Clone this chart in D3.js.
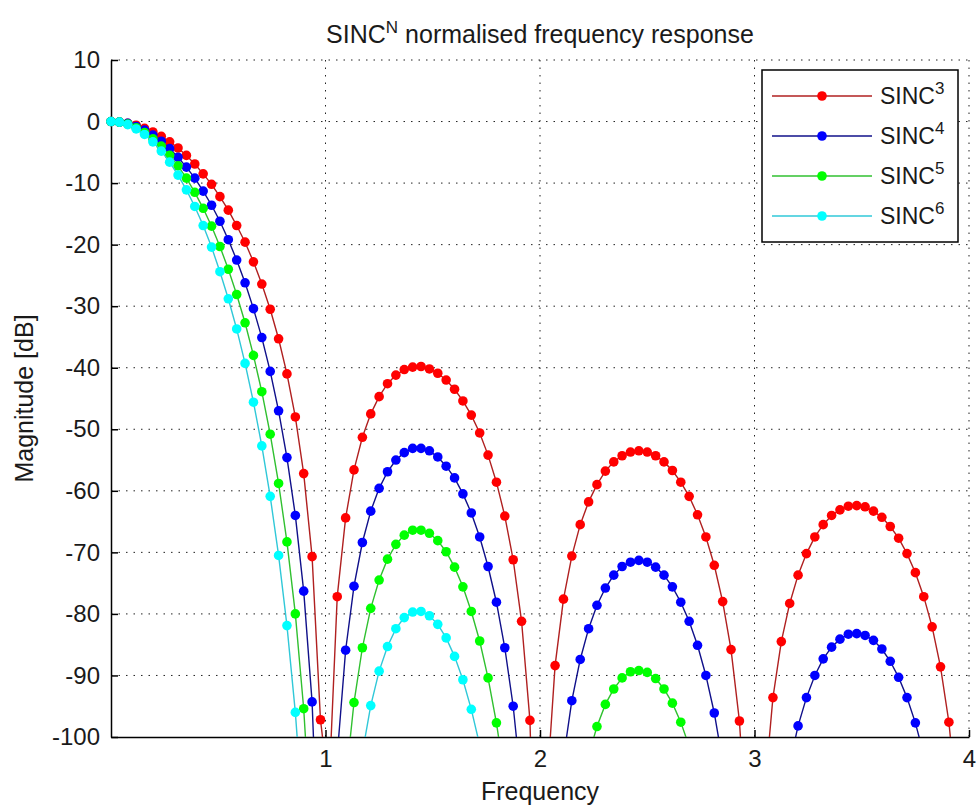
<!DOCTYPE html>
<html>
<head>
<meta charset="utf-8">
<script src="https://cdn.jsdelivr.net/npm/d3@7"></script>
<title>SINC^N response</title>
<style>
body{ margin:0; background-color:white; }
text{ font-family: Arial, "Liberation Sans", sans-serif; fill:#1a1a1a; }
.grid line{ stroke:#222; stroke-width:1; stroke-dasharray:1.5,6; }
.axis path, .axis line{ stroke:#000; stroke-width:1.5; }
</style>
</head>
<body>
<svg id="chart" width="977" height="807"></svg>
<script type="text/javascript">
// frequency samples (normalised)
var freq = [
 0, 0.0391, 0.0781, 0.1172, 0.1563, 0.1953, 0.2344, 0.2734, 0.3125, 0.3516,
 0.3906, 0.4297, 0.4688, 0.5078, 0.5469, 0.5859, 0.625, 0.6641, 0.7031, 0.7422,
 0.7813, 0.8203, 0.8594, 0.8984, 0.9375, 0.9766, 1.0156, 1.0547, 1.0938, 1.1328,
 1.1719, 1.2109, 1.25, 1.2891, 1.3281, 1.3672, 1.4063, 1.4453, 1.4844, 1.5234,
 1.5625, 1.6016, 1.6406, 1.6797, 1.7188, 1.7578, 1.7969, 1.8359, 1.875, 1.9141,
 1.9531, 1.9922, 2.0313, 2.0703, 2.1094, 2.1484, 2.1875, 2.2266, 2.2656, 2.3047,
 2.3438, 2.3828, 2.4219, 2.4609, 2.5, 2.5391, 2.5781, 2.6172, 2.6563, 2.6953,
 2.7344, 2.7734, 2.8125, 2.8516, 2.8906, 2.9297, 2.9688, 3.0078, 3.0469, 3.0859,
 3.125, 3.1641, 3.2031, 3.2422, 3.2813, 3.3203, 3.3594, 3.3984, 3.4375, 3.4766,
 3.5156, 3.5547, 3.5938, 3.6328, 3.6719, 3.7109, 3.75, 3.7891, 3.8281, 3.8672,
 3.9063, 3.9453, 3.9844
];

// magnitudes in dB (points below -100 are off the axes)
var sinc3 = [
 0, -0.1, -0.3, -0.6, -1.1, -1.7, -2.4, -3.3, -4.3, -5.5,
 -6.9, -8.5, -10.2, -12.2, -14.4, -16.9, -19.6, -22.8, -26.4, -30.5,
 -35.3, -41.0, -48.0, -57.2, -70.7, -97.2, -108.8, -77.2, -64.4, -56.6,
 -51.3, -47.5, -44.7, -42.6, -41.2, -40.3, -39.9, -39.8, -40.2, -40.9,
 -42.0, -43.5, -45.4, -47.7, -50.6, -54.2, -58.6, -64.1, -71.2, -81.2,
 -97.3, -144.4, -108.8, -88.4, -77.6, -70.6, -65.5, -61.8, -59.0, -56.8,
 -55.3, -54.3, -53.7, -53.5, -53.7, -54.3, -55.3, -56.7, -58.6, -60.9,
 -63.9, -67.5, -72.1, -78.0, -85.8, -97.4, -118.7, -155.1, -108.9, -93.6,
 -84.5, -78.3, -73.7, -70.2, -67.5, -65.5, -64.0, -63.1, -62.5, -62.4,
 -62.6, -63.3, -64.3, -65.8, -67.7, -70.2, -73.3, -77.2, -82.1, -88.6,
 -97.6, -111.6, -144.4
];
var sinc4 = [
 0, -0.1, -0.3, -0.8, -1.4, -2.2, -3.2, -4.4, -5.8, -7.4,
 -9.2, -11.3, -13.6, -16.2, -19.2, -22.5, -26.2, -30.4, -35.1, -40.6,
 -47.0, -54.6, -64.0, -76.3, -94.3, -129.6, -145.0, -103.0, -85.9, -75.5,
 -68.4, -63.3, -59.6, -56.9, -55.0, -53.8, -53.1, -53.1, -53.5, -54.5,
 -56.0, -57.9, -60.5, -63.6, -67.5, -72.3, -78.1, -85.5, -95.0, -108.2,
 -129.7, -192.5, -145.1, -117.8, -103.5, -94.1, -87.4, -82.4, -78.6, -75.8,
 -73.7, -72.3, -71.6, -71.3, -71.6, -72.4, -73.7, -75.6, -78.1, -81.2,
 -85.1, -90.0, -96.1, -104.0, -114.5, -129.9, -158.3, -206.8, -145.2, -124.8,
 -112.7, -104.4, -98.2, -93.6, -90.0, -87.3, -85.4, -84.1, -83.3, -83.2,
 -83.5, -84.3, -85.7, -87.7, -90.3, -93.6, -97.7, -102.9, -109.5, -118.1,
 -130.1, -148.8, -192.5
];
var sinc5 = [
 0, -0.1, -0.4, -1.0, -1.8, -2.8, -4.0, -5.5, -7.2, -9.2,
 -11.5, -14.1, -17.0, -20.3, -24.0, -28.1, -32.7, -38.0, -43.9, -50.8,
 -58.8, -68.3, -80.0, -95.4, -117.9, -162.0, -181.3, -128.7, -107.3, -94.4,
 -85.5, -79.1, -74.5, -71.1, -68.7, -67.2, -66.4, -66.4, -66.9, -68.1,
 -69.9, -72.4, -75.6, -79.6, -84.4, -90.4, -97.7, -106.8, -118.7, -135.3,
 -162.1, -240.7, -181.4, -147.3, -129.4, -117.6, -109.2, -103.0, -98.3, -94.7,
 -92.2, -90.4, -89.4, -89.2, -89.5, -90.5, -92.2, -94.5, -97.6, -101.5,
 -106.4, -112.5, -120.1, -129.9, -143.1, -162.3, -197.8, -258.6, -181.5, -156.0,
 -140.9, -130.5, -122.8, -116.9, -112.5, -109.2, -106.7, -105.1, -104.2, -103.9,
 -104.4, -105.4, -107.2, -109.6, -112.9, -117.0, -122.2, -128.7, -136.9, -147.7,
 -162.6, -186.0, -240.7
];
var sinc6 = [
 0, -0.1, -0.5, -1.2, -2.1, -3.3, -4.8, -6.6, -8.7, -11.1,
 -13.8, -16.9, -20.4, -24.4, -28.8, -33.7, -39.3, -45.6, -52.7, -60.9,
 -70.5, -81.9, -96.0, -114.5, -141.5, -194.4, -217.6, -154.5, -128.8, -113.2,
 -102.6, -94.9, -89.3, -85.3, -82.4, -80.6, -79.7, -79.6, -80.3, -81.7,
 -83.9, -86.9, -90.7, -95.5, -101.3, -108.4, -117.2, -128.2, -142.5, -162.4,
 -194.6, -288.8, -217.6, -176.7, -155.3, -141.2, -131.1, -123.6, -117.9, -113.7,
 -110.6, -108.5, -107.3, -107.0, -107.4, -108.6, -110.6, -113.4, -117.1, -121.8,
 -127.7, -135.0, -144.2, -155.9, -171.7, -194.8, -237.4, -310.3, -217.7, -187.3,
 -169.1, -156.6, -147.3, -140.3, -135.0, -131.0, -128.1, -126.1, -125.0, -124.7,
 -125.2, -126.5, -128.6, -131.6, -135.4, -140.4, -146.6, -154.4, -164.3, -177.2,
 -195.1, -223.3, -288.8
];

var xTicks = [1, 2, 3, 4];
var yTicks = [10, 0, -10, -20, -30, -40, -50, -60, -70, -80, -90, -100];
var powers = ["3", "4", "5", "6"];
var markerColors = ["#ff0000", "#0000ff", "#00ff00", "#00ffff"];
var lineColors = ["#b02020", "#10108a", "#30c030", "#30c8d8"];

var props = {
  width: 977,
  height: 807,
  left: 111,
  right: 969,
  top: 60,
  bottom: 737,
  fontSize: 24
}

var series = [sinc3, sinc4, sinc5, sinc6].map(function(vals, i){
  return {
    power: powers[i],
    marker: markerColors[i],
    line: lineColors[i],
    points: vals.map(function(v, j){ return {f: freq[j], v: v}; })
  };
});

var svg = d3.select("#chart");
svg.append("rect").attr("width", props.width).attr("height", props.height).attr("fill", "white");

var x = d3.scaleLinear().domain([0, 4]).range([props.left, props.right]);
var y = d3.scaleLinear().domain([-100, 10]).range([props.bottom, props.top]);

// dotted grid
var grid = svg.append("g").attr("class", "grid");
grid.selectAll(".gx").data(xTicks).enter().append("line")
  .attr("x1", function(d){ return x(d); }).attr("x2", function(d){ return x(d); })
  .attr("y1", props.top).attr("y2", props.bottom);
grid.selectAll(".gy").data(yTicks.filter(function(d){ return d > -100; })).enter().append("line")
  .attr("x1", props.left).attr("x2", props.right)
  .attr("y1", function(d){ return y(d); }).attr("y2", function(d){ return y(d); });

// axes (left and bottom only, ticks pointing inward)
function plain(d){ return String(d); }
svg.append("g").attr("class", "axis")
  .attr("transform", "translate(0," + props.bottom + ")")
  .call(d3.axisBottom(x).tickValues(xTicks).tickFormat(plain).tickSize(-7).tickSizeOuter(0).tickPadding(13));
svg.append("g").attr("class", "axis")
  .attr("transform", "translate(" + props.left + ",0)")
  .call(d3.axisLeft(y).tickValues(yTicks).tickFormat(plain).tickSize(-7).tickSizeOuter(0).tickPadding(11));
svg.selectAll(".axis text").attr("font-size", props.fontSize)
  .style("font-family", "Arial, 'Liberation Sans', sans-serif").attr("fill", "#1a1a1a");

// clip for the curves
svg.append("clipPath").attr("id", "plotclip").append("rect")
  .attr("x", props.left).attr("y", props.top)
  .attr("width", props.right - props.left).attr("height", props.bottom - props.top);

var line = d3.line()
  .x(function(d){ return x(d.f); })
  .y(function(d){ return y(d.v); });

series.forEach(function(s){
  var g = svg.append("g");
  g.append("path").datum(s.points)
    .attr("clip-path", "url(#plotclip)")
    .attr("fill", "none")
    .attr("stroke", s.line)
    .attr("stroke-width", 1.4)
    .attr("d", line);
  g.selectAll("circle").data(s.points.filter(function(d){ return d.v >= -100 && d.v <= 10; }))
    .enter().append("circle")
    .attr("cx", function(d){ return x(d.f); })
    .attr("cy", function(d){ return y(d.v); })
    .attr("r", 4.8)
    .attr("fill", s.marker);
});

// title and labels
var title = svg.append("text")
  .attr("x", (props.left + props.right) / 2).attr("y", 43)
  .attr("text-anchor", "middle").attr("font-size", 25);
title.append("tspan").text("SINC");
title.append("tspan").attr("dy", -10).attr("font-size", 17).text("N");
title.append("tspan").attr("dy", 10).text(" normalised frequency response");

svg.append("text")
  .attr("x", (props.left + props.right) / 2).attr("y", 800)
  .attr("text-anchor", "middle").attr("font-size", 25)
  .text("Frequency");

svg.append("text")
  .attr("transform", "translate(33," + (props.top + props.bottom) / 2 + ") rotate(-90)")
  .attr("text-anchor", "middle").attr("font-size", 25)
  .text("Magnitude [dB]");

// legend
var legend = svg.append("g");
legend.append("rect")
  .attr("x", 762).attr("y", 70).attr("width", 196).attr("height", 172)
  .attr("fill", "white").attr("stroke", "#000").attr("stroke-width", 1.5);

var legendRow = d3.scaleBand().domain(powers).range([76, 236]);
series.forEach(function(s){
  var cy = legendRow(s.power) + legendRow.bandwidth() / 2;
  legend.append("line")
    .attr("x1", 772).attr("x2", 872).attr("y1", cy).attr("y2", cy)
    .attr("stroke", s.line).attr("stroke-width", 1.4);
  legend.append("circle").attr("cx", 822).attr("cy", cy).attr("r", 4.8).attr("fill", s.marker);
  var t = legend.append("text").attr("x", 880).attr("y", cy + 8).attr("font-size", 23);
  t.append("tspan").text("SINC");
  t.append("tspan").attr("dy", -10).attr("font-size", 17).text(s.power);
});
</script>
</body>
</html>
